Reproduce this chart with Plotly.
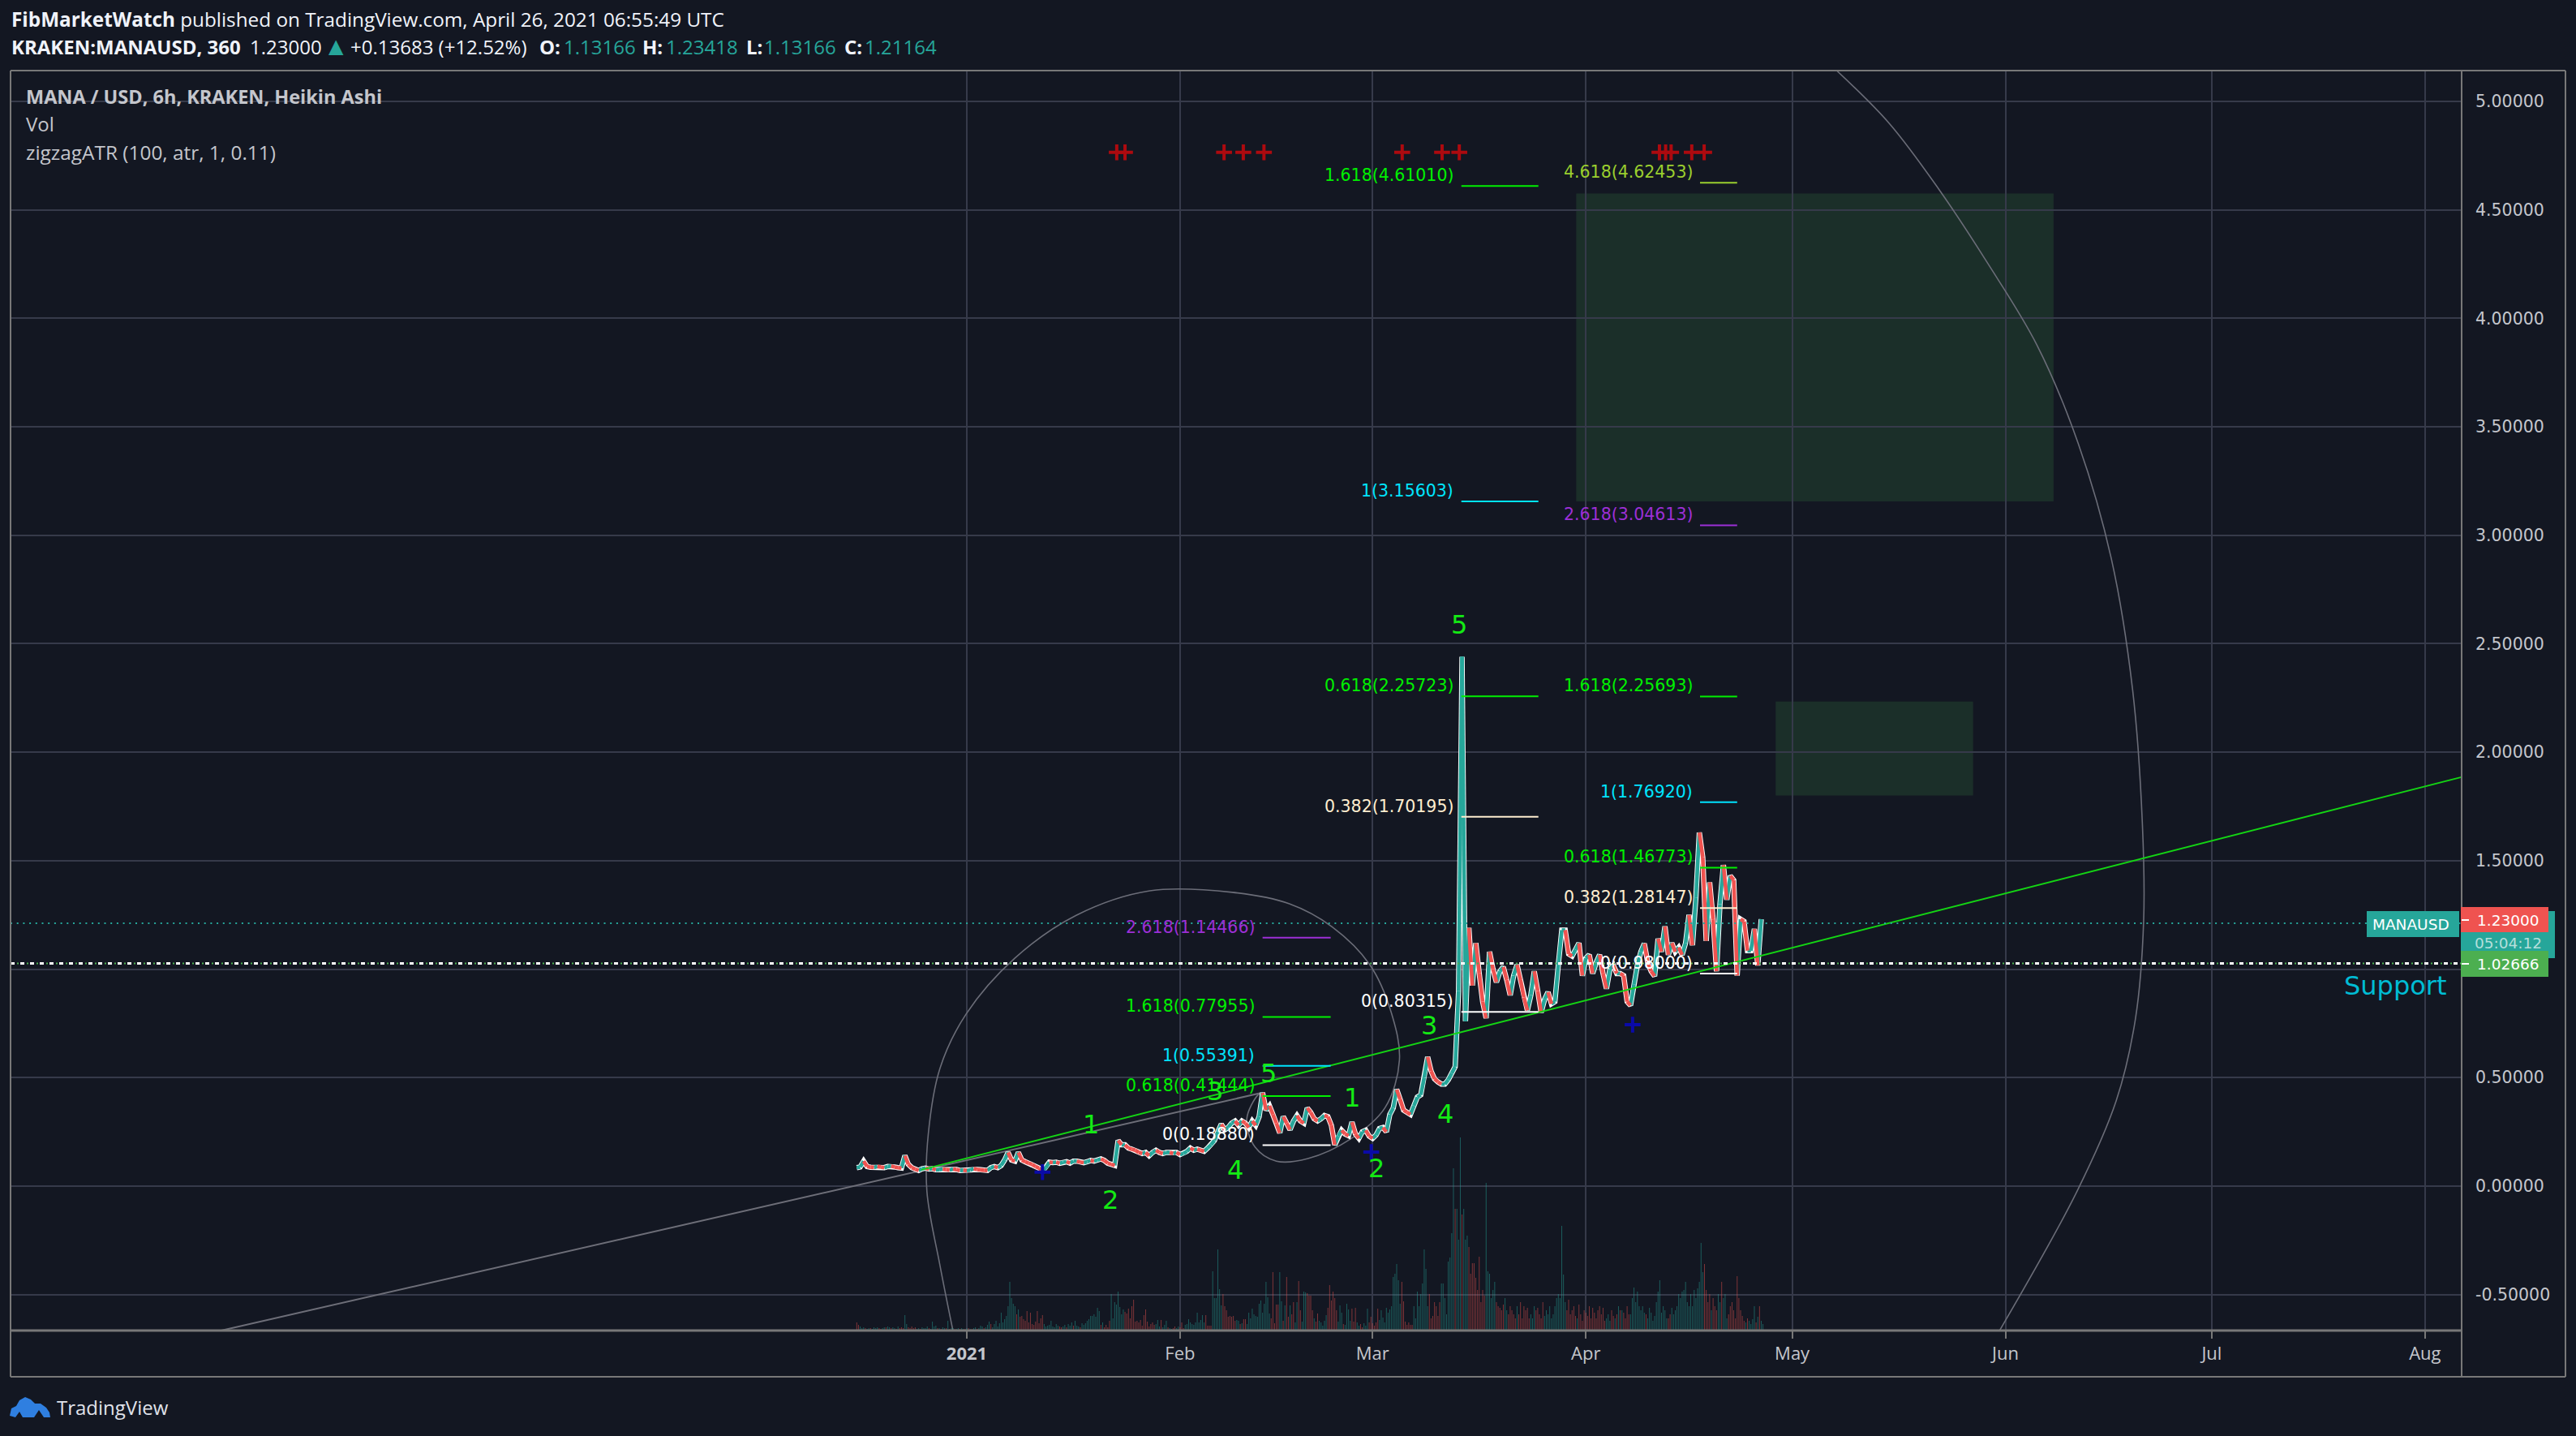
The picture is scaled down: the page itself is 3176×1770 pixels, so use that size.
import pandas as pd
import plotly.graph_objects as go

T0 = pd.Timestamp("2021-01-01")
def T(d):
    return (T0 + pd.Timedelta(days=d)).isoformat()

# ---- 12h closes, two per day, from day -16 (16 Dec 2020)
closes = [
 .085,.088, .115,.09, .087,.086, .09,.088, .085,.09, .092,.088, .085,.083, .14,.10,
 .085,.078, .072,.08, .083,.078, .08,.075, .076,.078, .076,.074, .078,.076, .072,.073,
 .072,.074, .08,.076, .075,.073, .072,.085, .09,.085, .095,.12, .155,.12, .115,.155,
 .12,.112, .105,.10, .09,.083, .068,.085, .11,.108, .11,.105, .11,.112, .106,.115,
 .115,.11, .108,.112, .118,.115, .12,.125, .118,.105, .10,.095, .21,.19, .19,.175,
 .17,.165, .155,.15, .155,.14, .155,.165, .155,.15, .155,.155, .15,.155, .145,.15,
 .16,.175, .165,.17, .165,.16, .175,.19, .21,.25, .285,.26, .27,.29, .30,.28,
 .30,.29, .27,.30, .28,.32, .43,.35, .37,.33, .29,.245, .32,.29, .26,.30,
 .325,.30, .29,.36, .34,.31, .30,.31, .325,.32, .28,.19, .23,.257, .24,.232,
 .295,.24, .22,.25, .257,.23, .22,.235, .265,.27, .25,.33, .36,.445, .40,.35,
 .34,.33, .37,.41, .42,.50, .595,.53, .494,.48, .47,.47, .49,.52, .55,.90,
 2.44,.76, 1.19,.924, 1.12,.98, .85,.774, 1.08,1.0, .94,.99, 1.01,.95, .88,.97,
 1.02,.95, .87,.81, .88,.99, .90,.80, .86,.894, .84,.85, 1.02,1.18, 1.18,1.07,
 1.06,1.09, 1.12,.97, 1.05,1.066, .98,1.03, 1.066,.98, .91,1.00, 1.017,.98, .98,.97,
 .85,.833, .93,1.02, 1.08,1.118, 1.03,.99, .968,1.14, 1.08,1.197, 1.066,1.12, 1.08,1.10,
 1.066,1.12, 1.25,1.11, 1.33,1.63, 1.515,1.13, 1.40,1.23, .99,1.30, 1.48,1.32, 1.43,1.41,
 .97,1.23, 1.22,1.085, 1.085,1.185, 1.017,1.23,
]
assert len(closes) == 264, len(closes)
teal_falls = {177}       # falling segments still drawn teal (the spike's flank)

# ---- 6h volume (arbitrary units), sign = candle direction
volume = [
 -10,-7,5,3, 4,-3,2,3, -3,2,4,3, 4,-3,-2,3, 4,-4,5,4, -3,4,3,-2, 5,-3,-4,-3, 19,8,-4,-3,
 -5,-3,-4,2, 3,-2,4,3, 3,5,-3,2, 11,5,6,-3, 3,-2,4,3, -3,12,-2,3, 3,-2,2,3, -2,3,2,-2,
 3,-3,2,-2, 3,4,-2,3, 6,5,-3,4, 7,11,-8,4, 8,12,5,9, 22,10,14,18, 30,60,40,33, 30,-20,26,-17,
 -18,-14,-12,-24, -10,-22,-8,-7, -11,-24,-9,-15, -19,8,5,6, 7,12,5,4, 8,6,-5,-4, 5,7,-4,8, 6,10,-6,12,
 6,5,-4,9, 7,9,12,14, 18,18,20,17, 28,24,-7,10, -4,-7,-4,-12, 45,15,35,32, 48,29,20,26, -23,-21,-27,-15,
 -30,-38,-11,-12, -10,-13,-6,-19, -26,-11,-5,-8, -10,-7,8,13, 5,-13,4,7, 12,-4,3,2, -3,-5,3,5, -4,-10,-3,7,
 8,14,10,8, 7,10,22,10, 13,19,10,-19, -6,-6,-6,73, 40,40,100,51, 31,-45,-30,-25, -17,-18,-17,-18, -12,13,12,-8,
 9,-14,-14,8, 22,15,27,20, 18,17,33,37, 22,33,60,41, 21,-15,-72,-9, -32,-32,72,36, -12,31,-66,-17, 31,-20,-35,10,
 35,-61,-25,11, 48,47,-46,-43, -43,-25,15,-11, -21,12,10,6, 12,19,-28,-56, -37,-48,-40,-25, 11,31,22,-8, 7,33,26,12,
 -27,-11,-28,10, 6,-8,-4,9, 6,27,-10,-17, -9,-6,-10,-27, 13,25,16,10, 28,22,26,30, 66,70,82,62, 33,-60,-36,-11,
 -7,-10,-7,-7, 30,15,48,30, 45,58,100,76, 30,-45,-15,-18, -35,-30,-18,-35, 58,58,40,20, 85,90,120,200, -150,150,112,238,
 -143,150,112,117, -103,-70,-83,-83, -65,-50,-91,-35, -50,-43,182,73, 70,40,50,60, -35,-30,-28,-25, -32,40,25,-20, -30,-25,-20,-15,
 30,-20,-35,-15, -30,-25,-28,-15, 20,15,30,-25, -28,-20,-15,-35, 18,25,20,30, 15,20,30,40, 45,40,129,69, 35,-25,-38,-20,
 -25,-30,-18,15, -32,-20,-12,-25, -22,-18,-30,-15, -28,-22,-15,-25, -30,-20,-28,-12, 15,20,12,-25, -18,15,-20,30, -25,25,-22,-15,
 -30,-20,20,40, 53,35,48,30, 25,30,22,-20, 15,28,22,12, 18,35,48,62, 22,30,25,15, -15,-20,28,20, 25,30,45,40,
 48,50,60,35, 30,45,30,50, 40,52,60,108, 72,-82,-50,-35, -45,25,-40,-30, -25,45,35,-60, 40,45,15,-20, -30,-35,-25,-15,
 -67,-40,-25,-18, -12,10,-15,12, 8,14,30,-10, 17,-30,12,8,
]
assert len(volume) == 528, len(volume)

# ---- drawings (days since 2021-01-01, price)
y_ticks = [5.0,4.5,4.0,3.5,3.0,2.5,2.0,1.5,1.0,0.5,0.0,-0.5]
x_tick_days = [0,31,59,90,120,151,181,212]
x_tick_text = ["<b>2021</b>","Feb","Mar","Apr","May","Jun","Jul","Aug"]

fib_c = [("2.618",1.14466,"#9c2fd6"),("1.618",0.77955,"#00f000"),("1",0.55391,"#00e5ff"),("0.618",0.41444,"#00f000"),("0",0.18880,"#ffffff")]
fib_a = [("1.618",4.61010,"#00f000"),("1",3.15603,"#00e5ff"),("0.618",2.25723,"#00f000"),("0.382",1.70195,"#ffeed0"),("0",0.80315,"#ffffff")]
fib_b = [("4.618",4.62453,"#9bcf2e"),("2.618",3.04613,"#9c2fd6"),("1.618",2.25693,"#00f000"),("1",1.76920,"#00e5ff"),("0.618",1.46773,"#00f000"),("0.382",1.28147,"#ffeed0"),("0",0.98000,"#ffffff")]
fib_sets = [(fib_c,43.0,52.9,42.1),(fib_a,71.9,83.1,71.0),(fib_b,106.6,112.0,105.8)]

green_line_days = [-6.6,217.3]; green_line_price = [0.075,1.885]
grey_line_days = [-108.4,43.0]; grey_line_price = [-0.666,0.431]
spiral_days = [-2.0,-3.9,-5.8,-5.6,-3.9,-0.1,7.0,15.9,26.6,38.6,46.9,53.1,58.6,61.7,62.9,60.8,55.8,49.6,45.0,41.9,40.7,42.4,43.1]
spiral_price = [-.669,-.366,-.025,.240,.543,.793,1.051,1.248,1.361,1.354,1.301,1.195,1.020,.801,.581,.361,.217,.127,.115,.180,.308,.422,.430]
arc_days = [126.5,134.1,141.3,148.4,155.6,161.6,166.4,169.5,170.9,171.1,169.9,167.1,161.4,150.1]
arc_price = [5.141,4.899,4.596,4.255,3.876,3.422,2.892,2.286,1.680,1.225,.770,.392,-.025,-.669]
blue_days = [11,58.8,96.8]; blue_price = [.064,.157,.744]
red_days = [21.8,23.0,37.4,40.2,43.2,63.3,69.1,71.6,100.7,101.6,102.4,105.4,107.2]
red_price = [4.765]*len(red_days)
wave_text = ["5","3","4","1","2","5","3","4","2","1"]
wave_days = [71.6,67.2,69.6,56.0,59.6,43.9,36.1,39.0,20.9,18.0]
wave_price = [2.588,.740,.333,.408,.082,.520,.438,.075,-.064,.284]
zones = [(88.6,158.0,3.156,4.575),(117.6,146.3,1.80,2.233)]
last_close = 1.21164; support = 1.02666

BG = "#131722"; GRID = "#363a4a"; FRAME = "#787878"; TEAL = "#26a69a"; RED = "#ef5350"; WAVE = "#14ea14"
L, R, TOP, BOT = 13, 3035, 87, 1640
fx = lambda p: (p - L) / (R - L)
fy = lambda p: (BOT - p) / (BOT - TOP)

dates = [T(-16 + .5 * i) for i in range(len(closes))]
vdates = [T(-16 + .25 * i) for i in range(len(volume))]

fig = go.Figure()
fig.add_trace(go.Bar(x=vdates, y=[abs(v) for v in volume], yaxis="y2", width=1.0e7,
                     marker=dict(color=["rgba(38,166,154,.5)" if v > 0 else "rgba(239,83,80,.5)" for v in volume], line_width=0),
                     showlegend=False, hoverinfo="skip"))

line = lambda xs, ys, c, w, **kw: fig.add_trace(go.Scatter(x=[T(d) for d in xs], y=ys, mode="lines",
                                                           line=dict(color=c, width=w, **kw), showlegend=False, hoverinfo="skip"))
line(spiral_days, spiral_price, "#6b6d78", 1.6, shape="spline", smoothing=1)
line(arc_days, arc_price, "#6b6d78", 1.6, shape="spline", smoothing=1)
line(grey_line_days, grey_line_price, "#6d6e78", 2)

# price: white edge below coloured up / down segments
fig.add_trace(go.Scatter(x=dates, y=closes, mode="lines", line=dict(color="#ffffff", width=6.5), showlegend=False, hoverinfo="skip"))
for colour, pick in [(TEAL, lambda i: closes[i] >= closes[i-1] or i in teal_falls),
                     (RED, lambda i: closes[i] < closes[i-1] and i not in teal_falls)]:
    sx, sy = [], []
    for i in range(1, len(closes)):
        if pick(i):
            sx += [dates[i-1], dates[i], None]
            sy += [closes[i-1], closes[i], None]
    fig.add_trace(go.Scatter(x=sx, y=sy, mode="lines", line=dict(color=colour, width=4.6), showlegend=False, hoverinfo="skip"))

line(green_line_days, green_line_price, "#14d414", 2)

annos = []
for levels, d0, d1, dlabel in fib_sets:
    for name, val, col in levels:
        line([d0, d1], [val, val], col, 2)
        annos.append(dict(x=T(dlabel), y=val, xref="x", yref="y", yshift=13, xanchor="right", yanchor="middle",
                          text=f"{name}({val:.5f})", showarrow=False, font=dict(family="DejaVu Sans", size=20.5, color=col)))

fig.add_trace(go.Scatter(x=[T(d) for d in blue_days], y=blue_price, mode="markers", showlegend=False, hoverinfo="skip",
                         marker=dict(symbol="cross-thin", size=14, line=dict(color="#0a0aa8", width=4))))
fig.add_trace(go.Scatter(x=[T(d) for d in red_days], y=red_price, mode="markers", showlegend=False, hoverinfo="skip",
                         marker=dict(symbol="cross-thin", size=14, line=dict(color="#ad0a0f", width=4))))

for t, d, p in zip(wave_text, wave_days, wave_price):
    annos.append(dict(x=T(d), y=p, xref="x", yref="y", text=t, showarrow=False, xanchor="center", yanchor="middle",
                      font=dict(family="DejaVu Sans", size=32, color=WAVE)))
annos.append(dict(x=T(207.7), y=.924, xref="x", yref="y", text="Support", showarrow=False,
                  font=dict(family="DejaVu Sans", size=32, color="#00bcd4")))

def ptext(px, py, text, size, color, family="Open Sans", anchor="left"):
    annos.append(dict(x=fx(px), y=fy(py), xref="paper", yref="paper", text=text, showarrow=False, xanchor=anchor,
                      yanchor="middle", align="left", font=dict(family=family, size=size, color=color)))

HD = "#f0f3fa"
ptext(12, 24, "<b>FibMarketWatch</b> published on TradingView.com, April 26, 2021 06:55:49 UTC", 24.3, HD)
ptext(12, 57, "<b>KRAKEN:MANAUSD, 360</b>", 24, HD)
ptext(306, 57, "1.23000", 24, HD)
ptext(403, 57, "▲", 24, TEAL, "DejaVu Sans")
ptext(430, 57, "+0.13683 (+12.52%)", 24, HD)
for lab, xl, val, xv in [("O:",663,"1.13166",693),("H:",790,"1.23418",819),("L:",918,"1.13166",940),("C:",1039,"1.21164",1064)]:
    ptext(xl, 57, f"<b>{lab}</b>", 24, HD)
    ptext(xv, 57, val, 24, TEAL)
ptext(30, 119, "<b>MANA / USD, 6h, KRAKEN, Heikin Ashi</b>", 23.5, "#c4c6cc")
ptext(30, 153, "Vol", 24, "#c4c6cc")
ptext(30, 187, "zigzagATR (100, atr, 1, 0.11)", 24.4, "#c4c6cc")
ptext(68, 1734, "TradingView", 24, "#e0e3eb")
ptext(2972, 1139, "MANAUSD", 18.5, "#ffffff", "DejaVu Sans", "center")
ptext(3092, 1134, "1.23000", 18.5, "#ffffff", "DejaVu Sans", "center")
ptext(3092, 1162, "05:04:12", 18.5, "#b4dfdb", "DejaVu Sans", "center")
ptext(3092, 1188, "1.02666", 18.5, "#ffffff", "DejaVu Sans", "center")

def prect(x0, y0, x1, y1, c):
    return dict(type="rect", xref="paper", yref="paper", x0=fx(x0), x1=fx(x1), y0=fy(y0), y1=fy(y1), fillcolor=c, line_width=0)
def pline(x0, y0, x1, y1, c=FRAME, w=2, **kw):
    return dict(type="line", xref="paper", yref="paper", x0=fx(x0), x1=fx(x1), y0=fy(y0), y1=fy(y1), line=dict(color=c, width=w, **kw))

shapes = []
for d0, d1, p0, p1 in zones:
    shapes.append(dict(type="rect", xref="x", yref="y", x0=T(d0), x1=T(d1), y0=p0, y1=p1, layer="below",
                       fillcolor="rgba(76,175,80,.16)", line_width=0))
shapes += [
    dict(type="line", xref="paper", yref="y", x0=0, x1=1, y0=last_close, y1=last_close, line=dict(color=TEAL, width=2, dash="2px,5.7px")),
    dict(type="line", xref="paper", yref="y", x0=0, x1=1, y0=support, y1=support, line=dict(color="#ffffff", width=3, dash="5px,7px")),
    dict(type="line", xref="paper", yref="y", x0=fx(L + 8), x1=1, y0=support, y1=support, line=dict(color="#4caf50", width=2, dash="2px,10px")),
    pline(L, TOP, 3163, TOP), pline(L, TOP, L, 1697), pline(L, BOT, 3035, BOT, w=3), pline(L, 1697, 3163, 1697),
    pline(3035, TOP, 3035, 1697), pline(3163, TOP, 3163, 1697),
    prect(2918, 1123, 3032, 1155, TEAL), prect(3034, 1123, 3150, 1181, TEAL),
    prect(3034, 1118, 3142, 1149, RED), prect(3034, 1172, 3142, 1204, "#4caf50"),
    pline(3035, 1134, 3044, 1134, "#ffffff"), pline(3035, 1188, 3044, 1188, "#ffffff"),
]
def cloud(pts):
    return "M " + " L ".join(f"{fx(a):.5f},{fy(b):.5f}" for a, b in pts) + " Z"
shapes.append(dict(type="path", xref="paper", yref="paper", fillcolor="#2f7fe0", line_width=0,
                   path=cloud([(12,1745),(14,1736),(20,1733),(24,1726),(31,1722),(38,1725),(43,1730),(50,1730),(57,1735),(61,1741),(62,1747),(54,1747),(48,1738),(42,1747),(28,1747),(24,1740),(19,1747)])))

fig.update_layout(
    width=3176, height=1770, autosize=False, paper_bgcolor=BG, plot_bgcolor=BG, barmode="overlay",
    margin=dict(l=L, r=3176 - R, t=TOP, b=1770 - BOT), showlegend=False, dragmode=False,
    font=dict(family="DejaVu Sans", color="#b2b5be"), shapes=shapes, annotations=annos,
    xaxis=dict(type="date", range=[T(-139.03), T(217.33)], showgrid=True, gridcolor=GRID, gridwidth=2,
               tickvals=[T(d) for d in x_tick_days], ticktext=x_tick_text, ticks="outside", ticklen=9, tickwidth=2, tickcolor=FRAME,
               tickfont=dict(family="Open Sans", size=22, color="#c4c6cc"), ticklabelstandoff=0, zeroline=False),
    yaxis=dict(range=[-0.666, 5.142], side="right", showgrid=True, gridcolor=GRID, gridwidth=2, zeroline=False,
               tickvals=y_ticks, ticktext=[f"{v:.5f}" for v in y_ticks], ticks="", ticklabelstandoff=16,
               tickfont=dict(family="DejaVu Sans", size=20.5, color="#c4c6cc")),
    yaxis2=dict(overlaying="y", range=[0, 1553], visible=False, fixedrange=True),
)
fig.write_html("out.html", config={"displayModeBar": False},
               post_script="document.body.style.margin='0';document.body.style.background='#131722';")
